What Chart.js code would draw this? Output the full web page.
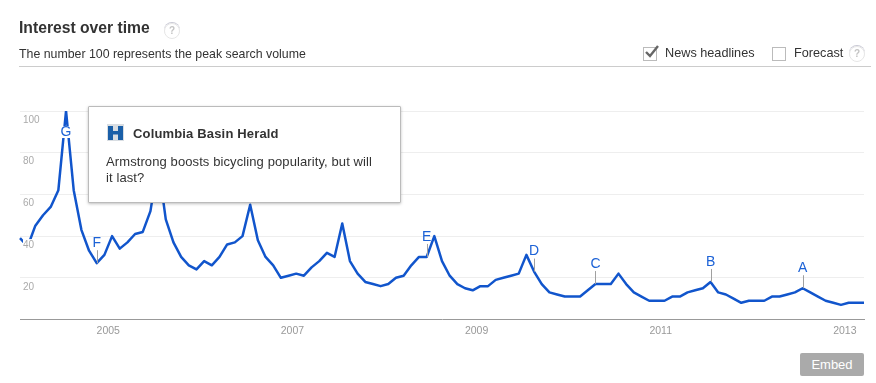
<!DOCTYPE html>
<html><head><meta charset="utf-8">
<style>
html,body{margin:0;padding:0;background:#fff;width:876px;height:383px;overflow:hidden;font-family:"Liberation Sans",Arial,sans-serif;color:#333}
#c{position:absolute;left:0;top:0;width:876px;height:383px}
.a{position:absolute;white-space:nowrap}
#rule{position:absolute;left:19px;top:66px;width:852px;height:1px;background:#ccc}
.help{position:absolute;width:14px;height:14px;border:1px solid #e6e6e6;border-radius:50%;color:#c4c4c4;font:bold 10px/14px "Liberation Sans";text-align:center;box-shadow:0 -1px 0 #c8c8d4}
.box{position:absolute;width:12px;height:12px;border:1px solid #bbb;background:#fff}
#tip{position:absolute;left:88px;top:106px;width:311px;height:95px;background:#fff;border:1px solid #bbb;box-shadow:0 1px 3px rgba(0,0,0,.25);border-radius:1px}
#embed{position:absolute;left:800px;top:353px;width:64px;height:23px;background:#aaa;color:#fff;border-radius:2px;font:13px/23px "Liberation Sans";text-align:center}
</style></head><body>
<canvas id="c" width="876" height="383"></canvas>
<div class="a" style="left:19px;top:18px;font:bold 15.7px/19px 'Liberation Sans'">Interest over time</div>
<div class="help" style="left:164px;top:23px">?</div>
<div class="a" style="left:19px;top:46px;font:12.35px/16px 'Liberation Sans'">The number 100 represents the peak search volume</div>
<div id="rule"></div>
<div class="box" style="left:643px;top:47px"></div>
<svg class="a" style="left:644px;top:44px" width="18" height="16"><path d="M2 8 L6 12 L14 2" fill="none" stroke="#666" stroke-width="2.4"/></svg>
<div class="a" style="left:665px;top:45px;font:12.7px/16px 'Liberation Sans'">News headlines</div>
<div class="box" style="left:772px;top:47px"></div>
<div class="a" style="left:794px;top:45px;font:12.7px/16px 'Liberation Sans'">Forecast</div>
<div class="help" style="left:849px;top:46px">?</div>
<div id="tip">
  <svg class="a" style="left:18px;top:17px" width="17" height="17"><rect width="17" height="17" fill="#d8dde2"/><path d="M1 2h5v5h5V2h5v14h-5V10.500H6V16H1z" fill="#1a5fa8"/></svg>
  <div class="a" style="left:44px;top:19px;font:bold 13px/16px 'Liberation Sans';letter-spacing:.16px">Columbia Basin Herald</div>
  <div class="a" style="left:17px;top:47px;font:13px/16px 'Liberation Sans';letter-spacing:.1px">Armstrong boosts bicycling popularity, but will<br>it last?</div>
</div>
<div id="embed">Embed</div>
<script src="https://cdn.jsdelivr.net/npm/chart.js@4"></script>
<script>
const interest = [39,35,45,50,54,62,100,62,43,33,27,31,40,34,37,41,42,52,75,48,37,30,26,24,28,26,30,36,37,40,55,38,30,26,20,21,22,21,25,28,32,30,46,28,22,18,17,16,17,20,21,26,30,30,40,28,21,17,15,14,16,16,19,20,21,22,31,23,17,13,12,11,11,11,14,17,17,17,22,17,13,11,9,9,9,11,11,13,14,15,18,13,12,10,8,9,9,9,11,11,12,13,15,13,11,9,8,7,8,8,8];
const startYear = 2004;
const months = interest.map((_, i) => (startYear + Math.floor(i / 12)) + '-' + String(i % 12 + 1).padStart(2, '0'));
const yearTicks = ['2005-01','2007-01','2009-01','2011-01','2013-01'];
const yTicks = [20,40,60,80,100];
const markerLetters = ['F','E','D','C','B','A','G'];
const markerMonths = ['2004-11','2008-06','2009-08','2010-04','2011-07','2012-07','2004-07'];

const markers = {
  id: 'markers',
  afterDatasetsDraw(chart) {
    const {ctx, scales: {x, y}} = chart;
    ctx.save();
    ctx.font = '14px "Liberation Sans"';
    ctx.textAlign = 'center';
    ctx.textBaseline = 'middle';
    markerLetters.forEach((l, k) => {
      const i = months.indexOf(markerMonths[k]);
      const px = x.getPixelForValue(i), py = y.getPixelForValue(interest[i]);
      if (l === 'G') {
        ctx.fillStyle = '#fff';
        ctx.fillRect(px - 6, py + 15, 12, 12);
        ctx.fillStyle = '#1c62d6';
        ctx.fillText(l, px, py + 21);
        return;
      }
      ctx.strokeStyle = '#a0a0a0';
      ctx.lineWidth = 1;
      ctx.beginPath();
      ctx.moveTo(Math.round(px) + .5, py);
      ctx.lineTo(Math.round(px) + .5, py - 13);
      ctx.stroke();
      ctx.fillStyle = '#1c62d6';
      ctx.fillText(l, px, py - 20);
    });
    ctx.restore();
  }
};

new Chart(document.getElementById('c'), {
  type: 'line',
  plugins: [markers],
  data: {labels: months, datasets: [{data: interest, borderColor: '#1155cc', borderWidth: 2.5, pointRadius: 0, tension: 0, borderJoinStyle: 'round', fill: false}]},
  options: {
    responsive: false, animation: false, events: [],
    layout: {padding: {left: 20, right: 12, top: 111, bottom: 0}},
    plugins: {legend: {display: false}, tooltip: {enabled: false}},
    scales: {
      x: {
        type: 'category',
        afterFit(s) { s.height = 63.5; },
        border: {color: '#999', width: 1},
        grid: {display: false, drawTicks: false},
        ticks: {autoSkip: false, maxRotation: 0, minRotation: 0, color: '#999', padding: 5, labelOffset: -3.8,
          font: {family: '"Liberation Sans"', size: 10.5},
          callback(v) { const m = months[v]; return yearTicks.includes(m) ? m.slice(0, 4) : ''; }}
      },
      y: {
        min: 0, max: 100,
        afterFit(s) { s.width = 0; },
        afterBuildTicks(s) { s.ticks = yTicks.map(value => ({value})); },
        border: {display: false},
        grid: {color: '#eeeeee', drawTicks: false},
        ticks: {mirror: true, padding: 3, labelOffset: 9, z: 1, color: '#aaa', showLabelBackdrop: true, backdropColor: '#fff', backdropPadding: 0,
          font: {family: '"Liberation Sans"', size: 10}}
      }
    }
  }
});
</script>
</body></html>
